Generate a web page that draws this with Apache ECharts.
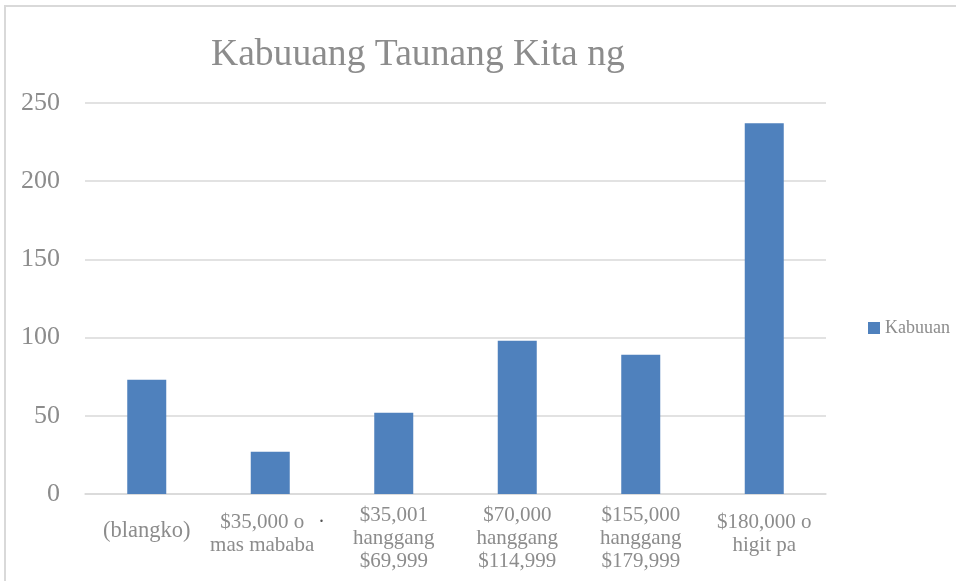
<!DOCTYPE html>
<html lang="en">
  <head>
    <meta charset="UTF-8" />
    <title>Kabuuang Taunang Kita ng</title>
    <script src="https://cdn.jsdelivr.net/npm/echarts@6/dist/echarts.min.js"></script>
    <style>
      body { margin: 0; background: #fff; }
    </style>
  </head>
  <body>
    <div id="main" style="width: 956px; height: 581px"></div>
  </body>
  <script type="text/javascript">
    const categories = [
      "(blangko)",
      "$35,000 o\nmas mababa",
      "$35,001\nhanggang\n$69,999",
      "$70,000\nhanggang\n$114,999",
      "$155,000\nhanggang\n$179,999",
      "$180,000 o\nhigit pa",
    ];
    const kabuuan = [73, 27, 52, 98, 89, 237];
    const yTicks = [0, 50, 100, 150, 200, 250];

    const grayText = "#8c8c8c";
    const serif = "'Liberation Serif', 'DejaVu Serif', serif";

    // labels sit lower when they have fewer lines
    function labelItem(c, i) {
      const lines = c.split("\n").length;
      if (lines === 1) return { value: c, textStyle: { fontSize: 22.5, padding: [16, 0, 0, 0] } };
      if (i === 1) return { value: c, textStyle: { padding: [7, 16, 0, 0] } };
      if (lines === 2) return { value: c, textStyle: { padding: [7, 0, 0, 0] } };
      return c;
    }

    var myChart = echarts.init(document.getElementById("main"));
    var option = {
      backgroundColor: "#fff",
      textStyle: { fontFamily: serif },
      title: {
        text: "Kabuuang Taunang Kita ng",
        left: 206,
        top: 31,
        textStyle: { fontFamily: serif, fontSize: 37.6, fontWeight: "normal", color: grayText },
      },
      legend: {
        data: ["Kabuuan"],
        left: 863,
        top: 314,
        itemWidth: 12,
        itemHeight: 12,
        itemGap: 6,
        icon: "rect",
        textStyle: { fontFamily: serif, fontSize: 18, color: grayText, padding: [0, 0, 4, 0] },
      },
      grid: { left: 85, right: 130, top: 103, bottom: 87 },
      xAxis: {
        type: "category",
        data: categories.map(labelItem),
        axisLine: { lineStyle: { color: "#d9d9d9", width: 1.5 } },
        axisTick: { show: false },
        axisLabel: {
          interval: 0,
          margin: 10,
          verticalAlign: "top",
          fontFamily: serif,
          fontSize: 21,
          lineHeight: 23,
          color: grayText,
        },
      },
      yAxis: {
        type: "value",
        min: yTicks[0],
        max: yTicks[yTicks.length - 1],
        interval: 50,
        axisLine: { show: false },
        axisTick: { show: false },
        splitLine: { lineStyle: { color: "#d9d9d9", width: 1.5 } },
        axisLabel: { margin: 25, fontFamily: serif, fontSize: 26, color: grayText },
      },
      series: [
        {
          name: "Kabuuan",
          type: "bar",
          data: kabuuan,
          barWidth: 39,
          itemStyle: { color: "#4f81bd" },
        },
      ],
      graphic: [
        {
          type: "rect",
          shape: { x: 5, y: 6, width: 1000, height: 700 },
          style: { fill: "none", stroke: "#d9d9d9", lineWidth: 2 },
          silent: true,
        },
        {
          type: "text",
          left: 319,
          top: 507,
          style: { text: ".", fontFamily: serif, fontSize: 20, fill: "#555" },
          silent: true,
        },
      ],
    };

    option && myChart.setOption(option);
  </script>
</html>
